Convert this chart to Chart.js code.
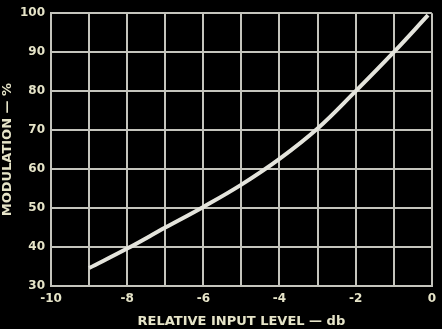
<!DOCTYPE html>
<html>
<head>
<meta charset="utf-8">
<script src="https://cdn.jsdelivr.net/npm/chart.js@4"></script>
<style>
  html, body { margin: 0; padding: 0; background: #000; }
  #wrap { width: 442px; height: 329px; }
</style>
</head>
<body>
<div id="wrap"><canvas id="modChart" width="442" height="329"></canvas></div>
<script>
// input level (db) and modulation (%)
const inputLevel = [-9, -8, -7, -6, -5, -4, -3, -2, -1, -0.1];
const modulation = [34.6, 39.6, 45, 50.3, 56, 62.6, 70.4, 80, 90, 99.5];

const xLabels = ['-10', '-8', '-6', '-4', '-2', '0'];
const yLabels = ['30', '40', '50', '60', '70', '80', '90', '100'];

const textColor = '#e6e4c8';
const gridColor = '#c4c4bc';
const tickFont = { family: 'DejaVu Sans', size: 12, weight: 'bold' };
const titleFont = { family: 'DejaVu Sans', size: 13, weight: 'bold' };

const ctx = document.getElementById('modChart').getContext('2d');

const modChart = new Chart(ctx, {
  type: 'scatter',
  data: {
    datasets: [{
      data: inputLevel.map((x, i) => ({ x: x, y: modulation[i] })),
      showLine: true,
      borderColor: '#e4e4dc',
      borderWidth: 4,
      pointRadius: 0,
      tension: 0.4
    }]
  },
  options: {
    responsive: false,
    animation: false,
    layout: { padding: { top: 13, right: 4, left: 0, bottom: 0 } },
    plugins: {
      legend: { display: false },
      tooltip: { enabled: false }
    },
    scales: {
      x: {
        min: -10,
        max: 0,
        afterFit: (s) => { s.height = 43; },
        ticks: {
          stepSize: 1,
          color: textColor,
          font: tickFont,
          padding: 6,
          maxRotation: 0,
          autoSkip: false,
          // label only every other grid line
          callback: (v) => xLabels.includes(String(v)) ? String(v) : ''
        },
        grid: { color: gridColor, lineWidth: 2, drawTicks: false },
        border: { color: gridColor, width: 2 },
        title: {
          display: true,
          text: 'RELATIVE INPUT LEVEL — db',
          color: textColor,
          font: titleFont,
          padding: { top: 1, bottom: 0 }
        }
      },
      y: {
        min: 30,
        max: 100,
        afterFit: (s) => { s.width = 51; },
        ticks: {
          stepSize: 10,
          color: textColor,
          font: tickFont,
          padding: 6,
          callback: (v) => yLabels.includes(String(v)) ? String(v) : ''
        },
        grid: { color: gridColor, lineWidth: 2, drawTicks: false },
        border: { color: gridColor, width: 2 },
        title: {
          display: true,
          text: 'MODULATION — %',
          color: textColor,
          font: titleFont,
          padding: { top: 0, bottom: 0 }
        }
      }
    }
  }
});
</script>
</body>
</html>
